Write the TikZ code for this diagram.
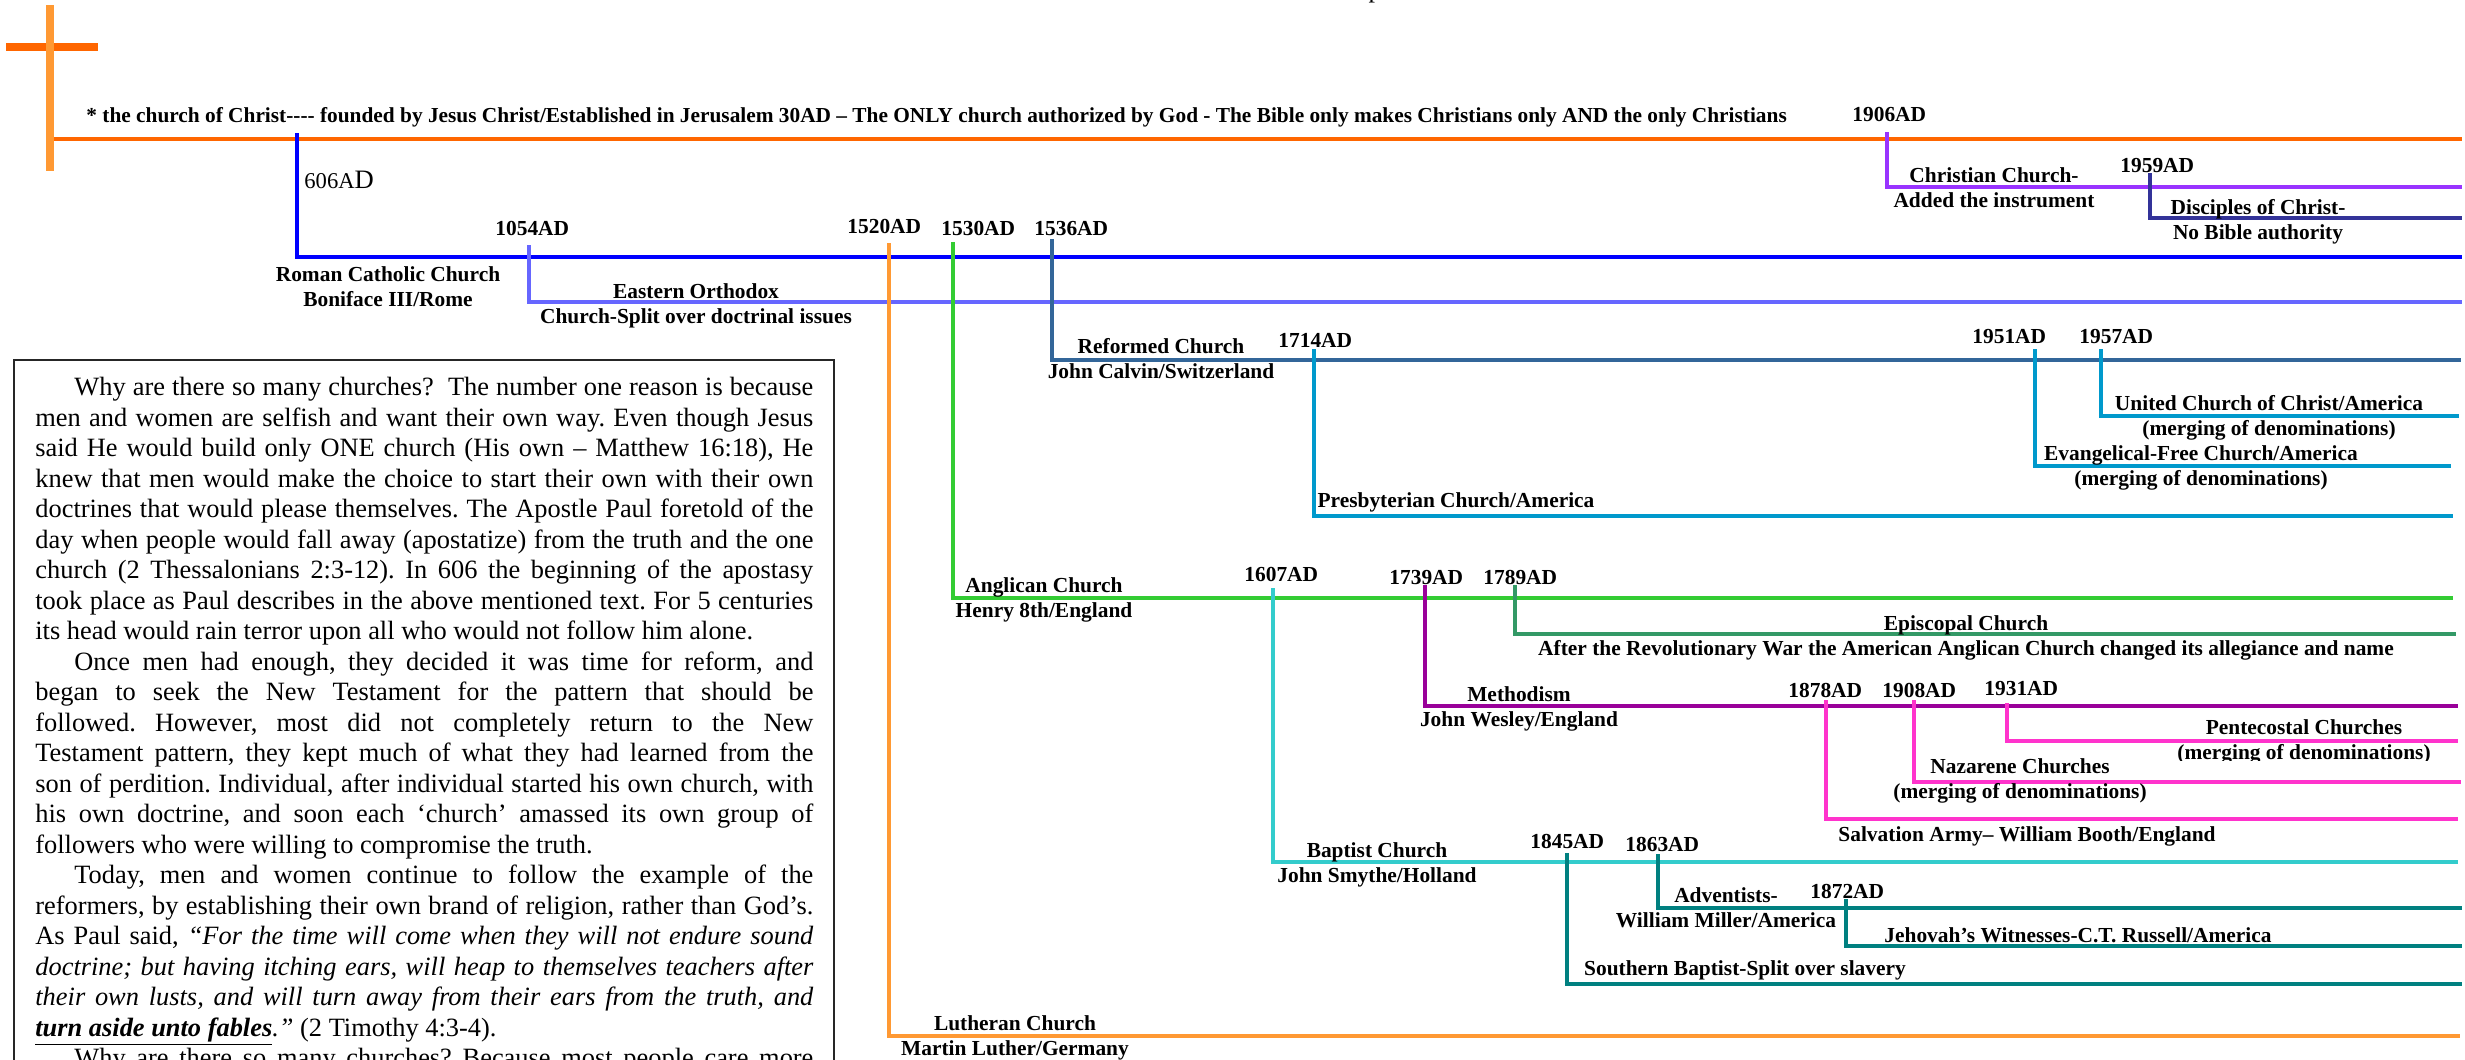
\documentclass[tikz,border=0pt]{standalone}
\usepackage{fontspec}
\setmainfont{Liberation Serif}

\definecolor{cxorange}{HTML}{FF6600}
\definecolor{luthorange}{HTML}{FF9933}
\definecolor{rcblue}{HTML}{0000FF}
\definecolor{eoblue}{HTML}{6666FF}
\definecolor{anggreen}{HTML}{33CC33}
\definecolor{refblue}{HTML}{336699}
\definecolor{presblue}{HTML}{0099CC}
\definecolor{bapcyan}{HTML}{33CCCC}
\definecolor{methpurple}{HTML}{990099}
\definecolor{episgreen}{HTML}{339966}
\definecolor{pentpink}{HTML}{FF33CC}
\definecolor{advteal}{HTML}{008080}
\definecolor{ccviolet}{HTML}{9933FF}
\definecolor{discblue}{HTML}{333399}

\newcommand\lblsize{\fontsize{10.7}{12.25}\selectfont\bfseries}

\begin{document}
\begin{tikzpicture}[
	x=0.5pt, y=-0.5pt,
	branch/.style={line width=1.8pt},
	lbl/.style={font=\lblsize, align=center, anchor=base, inner sep=0pt},
	yr/.style={font=\lblsize, anchor=base west, inner sep=0pt}]
	\useasboundingbox (0,0) rectangle (2465,1060);

	\foreach \n/\xa/\ya/\xb/\yb/\c in {cc/50/139/2462/139/cxorange, rc/297/133/2462/257/rcblue,
		eo/529/245/2462/302/eoblue, lu/889/243/2460/1036/luthorange, an/953/242/2453/598/anggreen,
		re/1052/239/2461/360/refblue, pr/1314/349/2453/516/presblue, ef/2035/349/2451/466/presblue,
		uc/2101/349/2459/416/presblue, ba/1273/588/2458/862/bapcyan, me/1425/585/2458/706/methpurple,
		ep/1515/585/2456/634/episgreen, sa/1826/700/2458/819/pentpink, na/1914/700/2461/782/pentpink,
		pe/2007/703/2458/741/pentpink, sb/1567/853/2462/984/advteal, ad/1658/854/2462/908/advteal,
		jw/1846/899/2462/946/advteal, ch/1887/132/2462/187/ccviolet, dc/2150/173/2462/218/discblue}{
		\coordinate (\n-a) at (\xa,\ya);
		\coordinate (\n-b) at (\xb,\yb);
		\draw[branch, \c] (\n-a) |- (\n-b);
	}

	\coordinate (cross-l) at (6,47);
	\coordinate (cross-r) at (98,47);
	\coordinate (cross-t) at (50,5);
	\coordinate (cross-b) at (50,171);
	\draw[line width=4pt, cxorange] (cross-l) -- (cross-r);
	\draw[line width=4pt, luthorange] (cross-t) -- (cross-b);

	\node[anchor=base, inner sep=0pt, font=\fontsize{13}{15}\selectfont] (ptop) at (1375,-3) {p};

	\node[yr, font=\fontsize{10.67}{12}\selectfont\bfseries] (title) at (86,122) {* the church of Christ-{}-{}-{}- founded by Jesus Christ/Established in Jerusalem 30AD – The ONLY church authorized by God - The Bible only makes Christians only AND the only Christians};
	\node[anchor=base west, inner sep=0pt] (y606) at (304,188) {\fontsize{11.3}{13}\selectfont 606A\fontsize{13.3}{15}\selectfont D};

	\foreach \t/\x/\y in {1054/495/235, 1520/847/233, 1530/941/235, 1536/1034/235, 1714/1278/347,
		1906/1852/121, 1959/2120/172, 1951/1972/343, 1957/2079/343, 1607/1244/581, 1739/1389/584,
		1789/1483/584, 1878/1788/697, 1908/1882/697, 1931/1984/695, 1845/1530/848, 1863/1625/851,
		1872/1810/898}
		\node[yr] (y\t) at (\x,\y) {\t AD};

	\node[lbl] (rc-lbl) at (388,306) {Roman Catholic Church\\Boniface III/Rome};
	\node[lbl] (eo-lbl) at (696,323) {Eastern Orthodox\\Church-Split over doctrinal issues};
	\node[lbl] (ch-lbl) at (1994,207) {Christian Church-\\Added the instrument};
	\node[lbl] (dc-lbl) at (2258,239) {Disciples of Christ-\\No Bible authority};
	\node[lbl] (re-lbl) at (1161,378) {Reformed Church\\John Calvin/Switzerland};
	\node[lbl] (uc-lbl) at (2269,435) {United Church of Christ/America\\(merging of denominations)};
	\node[lbl] (ef-lbl) at (2201,485) {Evangelical-Free Church/America\\(merging of denominations)};
	\node[lbl] (pr-lbl) at (1456,507) {Presbyterian Church/America};
	\node[lbl] (an-lbl) at (1044,617) {Anglican Church\\Henry 8th/England};
	\node[lbl] (ep-lbl) at (1966,655) {Episcopal Church\\After the Revolutionary War the American Anglican Church changed its allegiance and name};
	\node[lbl] (me-lbl) at (1519,726) {Methodism\\John Wesley/England};
	\begin{scope}
		\clip (2100,700) rectangle (2465,760);
		\node[lbl] (pe-lbl) at (2304,759) {Pentecostal Churches\\(merging of denominations)};
	\end{scope}
	\node[lbl] (na-lbl) at (2020,798) {Nazarene Churches\\(merging of denominations)};
	\node[lbl] (sa-lbl) at (2027,841) {Salvation Army– William Booth/England};
	\node[lbl] (ba-lbl) at (1377,882) {Baptist Church\\John Smythe/Holland};
	\node[lbl] (ad-lbl) at (1726,927) {Adventists-\\William Miller/America};
	\node[lbl] (jw-lbl) at (2078,942) {Jehovah’s Witnesses-C.T. Russell/America};
	\node[lbl] (sb-lbl) at (1745,975) {Southern Baptist-Split over slavery};
	\node[lbl] (lu-lbl) at (1015,1055) {Lutheran Church\\Martin Luther/Germany};

	\coordinate (box-nw) at (14,360);
	\coordinate (box-se) at (834,1090);
	\draw[line width=0.9pt, black!85] (box-nw) rectangle (box-se);
	\node[anchor=north west, inner sep=0pt, text width=389pt, align=justify,
		font=\fontsize{13.2}{15.25}\selectfont] (essay) at (35,377) {\frenchspacing\setlength{\parindent}{0pt}%
		\hspace*{19.5pt}Why are there so many churches? \ The number one reason is because\linebreak
		men and women are selfish and want their own way. Even though Jesus\linebreak
		said He would build only ONE church (His own – Matthew 16:18), He\linebreak
		knew that men would make the choice to start their own with their own\linebreak
		doctrines that would please themselves. The Apostle Paul foretold of the\linebreak
		day when people would fall away (apostatize) from the truth and the one\linebreak
		church (2 Thessalonians 2:3-12). In 606 the beginning of the apostasy\linebreak
		took place as Paul describes in the above mentioned text. For 5 centuries\linebreak
		its head would rain terror upon all who would not follow him alone.\par
		\hspace*{19.5pt}Once men had enough, they decided it was time for reform, and\linebreak
		began to seek the New Testament for the pattern that should be\linebreak
		followed. However, most did not completely return to the New\linebreak
		Testament pattern, they kept much of what they had learned from the\linebreak
		son of perdition. Individual, after individual started his own church, with\linebreak
		his own doctrine, and soon each ‘church’ amassed its own group of\linebreak
		followers who were willing to compromise the truth.\par
		\hspace*{19.5pt}Today, men and women continue to follow the example of the\linebreak
		reformers, by establishing their own brand of religion, rather than God’s.\linebreak
		As Paul said, \textit{“For the time will come when they will not endure sound\linebreak
		doctrine; but having itching ears, will heap to themselves teachers after\linebreak
		their own lusts, and will turn away from their ears from the truth, and\linebreak
		\underline{\textbf{turn aside unto fables}}.”} (2 Timothy 4:3-4).\par
		\hspace*{19.5pt}Why are there so many churches? Because most people care more\linebreak\par};
\end{tikzpicture}
\end{document}
